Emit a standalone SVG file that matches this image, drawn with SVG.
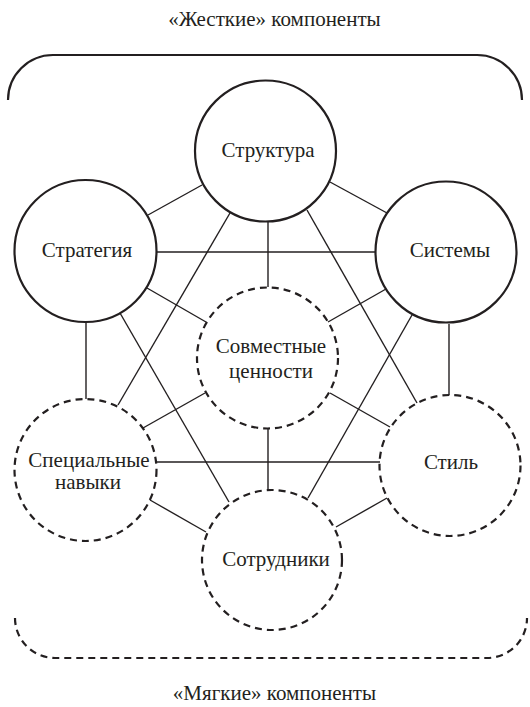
<svg xmlns="http://www.w3.org/2000/svg" width="530" height="707" viewBox="0 0 530 707">
<style>
.n{fill:none;stroke:#231f20;stroke-width:2.2}
.s{fill:none;stroke:#231f20;stroke-width:2.2;stroke-dasharray:7 5}
.c line{stroke:#231f20;stroke-width:1.4}
.lbl text{font-size:21px;fill:#231f20;text-anchor:middle}
</style>
<rect width="530" height="707" fill="#fff"/>
<g class="lbl" font-family="Liberation Serif, Times New Roman, serif">
<text x="274.5" y="26">«Жесткие» компоненты</text>
<text x="274.5" y="700">«Мягкие» компоненты</text>
</g>
<path class="n" d="M8,100 A45,45 0 0 1 53,55 H477 A45,45 0 0 1 522,100"/>
<path class="s" d="M15,618 A40,40 0 0 0 55,658 H487 A40,40 0 0 0 527,618"/>
<g class="c">
<line x1="148" y1="215" x2="202" y2="185"/>
<line x1="156" y1="252" x2="376" y2="252"/>
<line x1="147" y1="288" x2="206" y2="322"/>
<line x1="86" y1="322" x2="86" y2="399"/>
<line x1="120" y1="313" x2="229" y2="502"/>
<line x1="330" y1="182" x2="387" y2="213"/>
<line x1="268" y1="222" x2="268" y2="287"/>
<line x1="307" y1="210" x2="417" y2="403"/>
<line x1="230" y1="213" x2="118" y2="405"/>
<line x1="386" y1="289" x2="328" y2="322"/>
<line x1="449" y1="324" x2="449" y2="395"/>
<line x1="412" y1="315" x2="308" y2="498"/>
<line x1="205" y1="393" x2="143" y2="428"/>
<line x1="330" y1="393" x2="390" y2="427"/>
<line x1="268" y1="428" x2="268" y2="490"/>
<line x1="156" y1="462" x2="380" y2="462"/>
<line x1="150" y1="500" x2="206" y2="532"/>
<line x1="387" y1="498" x2="336" y2="527"/>
</g>
<g class="lbl" font-family="Liberation Serif, Times New Roman, serif">
<g id="struktura"><circle class="n" cx="265.5" cy="151" r="70.5"/><text x="268" y="157">Структура</text></g>
<g id="strategiya"><circle class="n" cx="85.5" cy="251" r="71"/><text x="87" y="257">Стратегия</text></g>
<g id="sistemy"><circle class="n" cx="446" cy="252" r="70.5"/><text x="450" y="257">Системы</text></g>
<g id="cennosti"><circle class="s" cx="267.5" cy="358" r="70.5"/><text x="271" y="353">Совместные</text><text x="271" y="378">ценности</text></g>
<g id="navyki"><circle class="s" cx="85.5" cy="470" r="71"/><text x="89" y="467">Специальные</text><text x="88" y="489">навыки</text></g>
<g id="stil"><circle class="s" cx="450" cy="465.5" r="70.5"/><text x="451" y="469">Стиль</text></g>
<g id="sotrudniki"><circle class="s" cx="272" cy="560" r="70"/><text x="276" y="566">Сотрудники</text></g>
</g>
</svg>
